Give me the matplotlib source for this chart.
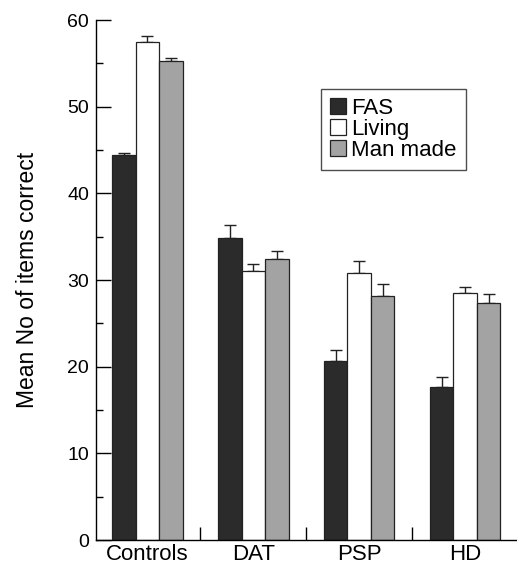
import numpy as np
import matplotlib
matplotlib.use('Agg')
import matplotlib.pyplot as plt
from matplotlib.ticker import MultipleLocator

plt.rcParams['font.family'] = ['Liberation Sans', 'DejaVu Sans']

# data
groups = ['Controls', 'DAT', 'PSP', 'HD']
series = ['FAS', 'Living', 'Man made']
fas      = [44.4, 34.9, 20.6, 17.7]
fas_err  = [0.3, 1.4, 1.3, 1.1]
living   = [57.5, 31.0, 30.8, 28.5]
liv_err  = [0.6, 0.8, 1.4, 0.7]
manmade  = [55.3, 32.4, 28.2, 27.4]
man_err  = [0.3, 0.9, 1.3, 1.0]

colors = ['#2b2b2b', '#ffffff', '#a3a3a3']

fig = plt.figure(figsize=(5.17, 5.67), dpi=100)
ax = fig.add_axes([0.1857, 0.0476, 0.8143, 0.9171])

x = np.arange(len(groups))
w = 0.222
for k, (vals, errs) in enumerate([(fas, fas_err), (living, liv_err), (manmade, man_err)]):
    ax.bar(x + (k - 1) * w, vals, w, color=colors[k], edgecolor='#222222',
           linewidth=0.9, label=series[k], zorder=2)
    ax.errorbar(x + (k - 1) * w, vals, yerr=[np.zeros(len(vals)), errs],
                fmt='none', ecolor='#222222', elinewidth=1.0, capsize=4.3,
                capthick=1.0, zorder=1)

ax.set_xlim(-0.485, 3.49)
ax.set_ylim(0, 60)

ax.spines['top'].set_visible(False)
ax.spines['right'].set_visible(False)
ax.spines['left'].set_linewidth(1.0)
ax.spines['bottom'].set_linewidth(1.0)

ax.yaxis.set_major_locator(MultipleLocator(10))
ax.yaxis.set_minor_locator(MultipleLocator(5))
ax.tick_params(axis='y', which='major', direction='in', length=10.5, width=1.0,
               labelsize=14, pad=5)
ax.tick_params(axis='y', which='minor', direction='in', length=5, width=1.0)

ax.set_xticks(x)
ax.set_xticklabels(groups, fontsize=16)
ax.set_xticks(x[:-1] + 0.5, minor=True)
ax.tick_params(axis='x', which='major', length=0, pad=3)
ax.tick_params(axis='x', which='minor', direction='in', length=9.5, width=1.0)

ax.set_ylabel('Mean No of items correct', fontsize=16.5)
ax.yaxis.set_label_coords(-0.135, 0.5)

leg = ax.legend(loc='upper left', bbox_to_anchor=(0.534, 0.867), borderaxespad=0,
                fontsize=16, frameon=True, fancybox=False, handlelength=0.72,
                handleheight=0.72, handletextpad=0.25, labelspacing=0.0,
                borderpad=0.4)
leg.get_frame().set_edgecolor('#222222')
leg.get_frame().set_linewidth(1.0)

plt.savefig('out.png', dpi=100)
plt.close()
